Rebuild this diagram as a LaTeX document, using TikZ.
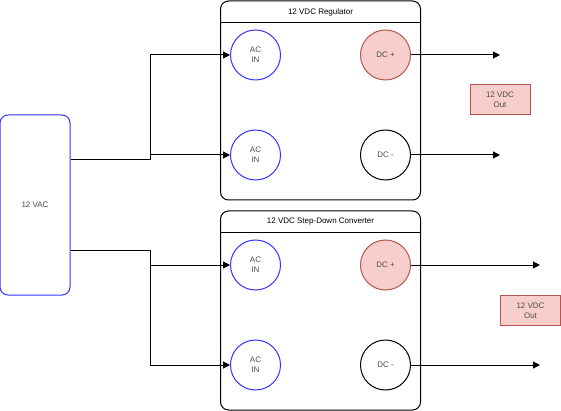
\documentclass[tikz,border=0pt]{standalone}
\usepackage{fontspec}
\setmainfont{Liberation Sans}
\usetikzlibrary{arrows.meta,calc}
\definecolor{pinkfill}{HTML}{F8CECC}
\definecolor{pinkline}{HTML}{B85450}
\definecolor{acblue}{HTML}{3333FF}
\tikzset{
  wire/.style={line width=1pt, black},
  arrowwire/.style={wire, -{Triangle[length=7pt,width=7pt]}},
  unit/.style={draw, line width=1pt, rounded corners=8pt, minimum width=200pt, minimum height=199pt, inner sep=0pt},
  acport/.style={circle, draw=acblue, line width=1pt, minimum size=50pt, inner sep=0pt, align=center, text=black!70},
  dcplus/.style={circle, draw=pinkline, fill=pinkfill, line width=1pt, minimum size=50pt, inner sep=0pt, text=black!70},
  dcminus/.style={circle, draw=black, line width=1pt, minimum size=50pt, inner sep=0pt, text=black!70},
  outbox/.style={draw=pinkline, fill=pinkfill, line width=1pt, minimum width=60pt, minimum height=30pt, inner sep=0pt, align=center, text=black!70},
  source/.style={draw=acblue, line width=1pt, rounded corners=8pt, minimum width=70pt, minimum height=180pt, inner sep=0pt, text=black!70}
}
\begin{document}
\begin{tikzpicture}[x=1pt, y=-1pt, font=\fontsize{8}{10}\selectfont]
  %%%%% START %%%%%
  \useasboundingbox (0,0) rectangle (561,411);

  % supply
  \node[source] (vac) at (35,205) {12 VAC};

  % regulator
  \node[unit] (reg) at (320.5,100.5) {};
  \draw[wire] (220.5,23) -- (420.5,23);
  \node (regtitle) at (320.5,12) {12 VDC Regulator};
  \node[acport] (regacA) at (255.5,55) {AC\\IN};
  \node[acport] (regacB) at (255.5,155) {AC\\IN};
  \node[dcplus] (regdcp) at (385.5,55) {DC +};
  \node[dcminus] (regdcm) at (385.5,155) {DC -};
  \node[outbox] (regout) at (500,100) {12 VDC\\Out};

  % step-down converter
  \node[unit] (conv) at (320.5,310.5) {};
  \draw[wire] (220.5,233) -- (420.5,233);
  \node (convtitle) at (320.5,222) {12 VDC Step-Down Converter};
  \node[acport] (convacA) at (255.5,265) {AC\\IN};
  \node[acport] (convacB) at (255.5,365) {AC\\IN};
  \node[dcplus] (convdcp) at (385.5,265) {DC +};
  \node[dcminus] (convdcm) at (385.5,365) {DC -};
  \node[outbox] (convout) at (530.5,310.5) {12 VDC\\Out};

  % free ends
  \coordinate (regendA) at (500,55);
  \coordinate (regendB) at (500,155);
  \coordinate (convendA) at (540,265);
  \coordinate (convendB) at (540,365);

  % ac wiring
  \coordinate (vactop) at ($(vac.north east)!0.25!(vac.south east)$);
  \coordinate (vacbot) at ($(vac.north east)!0.75!(vac.south east)$);
  \draw[arrowwire] (vactop) -- ++(80,0) |- (regacA.west);
  \draw[arrowwire] (vactop) -- ++(80,0) |- (regacB.west);
  \draw[arrowwire] (vacbot) -- ++(80,0) |- (convacA.west);
  \draw[arrowwire] (vacbot) -- ++(80,0) |- (convacB.west);

  % dc outputs
  \draw[arrowwire] (regdcp) -- (regendA);
  \draw[arrowwire] (regdcm) -- (regendB);
  \draw[arrowwire] (convdcp) -- (convendA);
  \draw[arrowwire] (convdcm) -- (convendB);
  %%%%% END %%%%%
\end{tikzpicture}
\end{document}
